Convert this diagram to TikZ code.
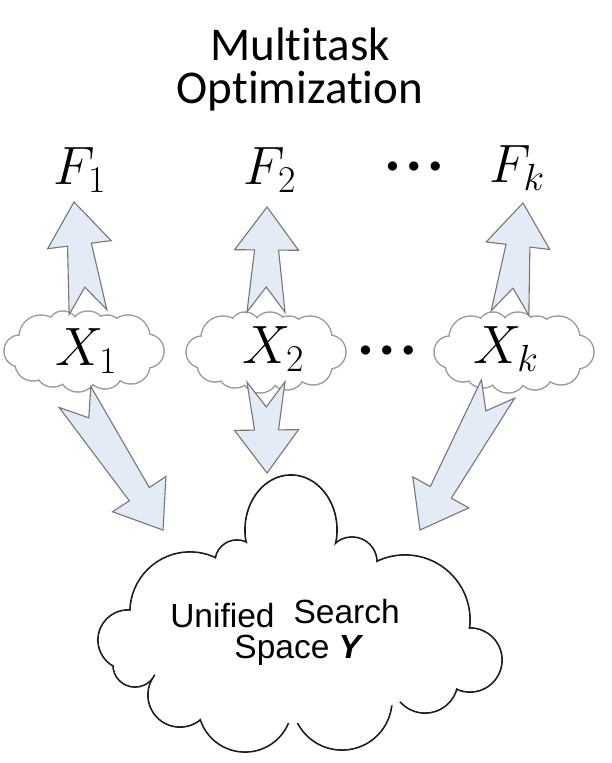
\RequirePackage{fix-cm}
\documentclass[tikz,border=0pt]{standalone}
\usepackage{fontspec}
\setmainfont{Liberation Sans}
\newfontfamily\titlefont[Ligatures=NoCommon]{Carlito}
\usetikzlibrary{calc}
\definecolor{arrowfill}{HTML}{E3EBF6}
\definecolor{arrowline}{HTML}{767676}
\definecolor{cloudgray}{HTML}{9A9A9A}
\definecolor{cloudblack}{HTML}{1E1E1E}
\tikzset{
  barrow/.style={fill=arrowfill, draw=arrowline, line width=1.1pt, line join=miter},
  smallline/.style={draw=cloudgray, line width=1.5pt},
  bigline/.style={draw=cloudblack, line width=1.8pt},
  mathlabel/.style={font=\fontsize{54}{60}\selectfont, inner sep=0pt, anchor=base},
  dotslabel/.style={font=\fontsize{24}{24}\selectfont, inner sep=0pt, anchor=base},
}
\newcommand\barrowpath[2]{%
  \coordinate (hb) at ($(#2)!43pt!(#1)$);
  \draw[barrow] (#2) -- ($(hb)!32pt!90:(#2)$) -- ($(hb)!12pt!90:(#2)$)
    -- ($(#1)!19pt!90:(#2)$) -- ($(#1)!25pt!(#2)$) -- ($(#1)!19pt!-90:(#2)$)
    -- ($(hb)!12pt!-90:(#2)$) -- ($(hb)!32pt!-90:(#2)$) -- cycle;
}
\newcommand\smallcloudat[1]{%
  \begin{scope}[shift={#1}]
    \foreach \cx/\cy/\rr in {-63/0/16,-42/-14/22,-20/-25/15,5/-22/18,24/-20/16,45/-14/22,
        64/0/17,48/14/19,22/20/18,-5/22/19,-30/18/18,-50/12/18}
      {\draw[smallline] (\cx,\cy) circle [radius=\rr pt];}
    \foreach \cx/\cy/\rr in {-63/0/16,-42/-14/22,-20/-25/15,5/-22/18,24/-20/16,45/-14/22,
        64/0/17,48/14/19,22/20/18,-5/22/19,-30/18/18,-50/12/18}
      {\fill[white] (\cx,\cy) circle [radius=\rr pt-0.75pt];}
    \fill[white] (0,0) ellipse [x radius=55pt, y radius=22pt];
  \end{scope}
}
\begin{document}
\begin{tikzpicture}[x=1pt,y=-1pt]
\useasboundingbox (0,0) rectangle (611,763);
\fill[white] (0,0) rectangle (611,763);

% title
\node[font=\titlefont\fontsize{47}{43}\selectfont, align=center, inner sep=0pt, anchor=base] (title) at (300,103) {Multitask\\Optimization};

% big cloud
\begin{scope}
  \draw[bigline] (291,530) ellipse [x radius=46pt, y radius=55pt];
  \foreach \cx/\cy/\rr in {237/562/22,352/562/25,405/620/65,470/660/32,425/680/33,342/700/50,
      245/705/47,180/695/32,135/665/22,128/640/30,190/612/60}
    {\draw[bigline] (\cx,\cy) circle [radius=\rr pt];}
  \fill[white] (291,530) ellipse [x radius=45pt, y radius=54pt];
  \foreach \cx/\cy/\rr in {237/562/22,352/562/25,405/620/65,470/660/32,425/680/33,342/700/50,
      245/705/47,180/695/32,135/665/22,128/640/30,190/612/60}
    {\fill[white] (\cx,\cy) circle [radius=\rr pt-0.9pt];}
  \fill[white] (295,648) ellipse [x radius=150pt, y radius=75pt];
  \fill[white] (295,575) ellipse [x radius=70pt, y radius=25pt];
\end{scope}

% small clouds
\smallcloudat{(83,351)}
\smallcloudat{(265,352)}
\smallcloudat{(513,352)}

% labels
\node[mathlabel] (F1) at (80,184) {$F_1$};
\node[mathlabel] (F2) at (270,184) {$F_2$};
\node[dotslabel] (Fd) at (414,172) {$\bullet\,\bullet\,\bullet$};
\node[mathlabel] (Fk) at (517,182) {$F_k$};

\node[mathlabel] (X1) at (86,365) {$X_1$};
\node[mathlabel] (X2) at (273,363) {$X_2$};
\node[dotslabel] (Xd) at (387,356) {$\bullet\,\bullet\,\bullet$};
\node[mathlabel] (Xk) at (506,363) {$X_k$};

% arrow anchors
\coordinate (t1u) at (88,312);  \coordinate (p1u) at (74,202);
\coordinate (t2u) at (266,312); \coordinate (p2u) at (267,207);
\coordinate (tku) at (510,313); \coordinate (pku) at (523,203);
\coordinate (t1d) at (75,397);  \coordinate (p1d) at (163,530);
\coordinate (t2d) at (266,382); \coordinate (p2d) at (267,473);
\coordinate (tkd) at (498,389); \coordinate (pkd) at (420,530);

\barrowpath{t1u}{p1u}
\barrowpath{t2u}{p2u}
\barrowpath{tku}{pku}
\barrowpath{t1d}{p1d}
\barrowpath{t2d}{p2d}
\barrowpath{tkd}{pkd}

% big cloud text
\node[font=\fontsize{33.5}{40}\selectfont, inner sep=0pt, anchor=base] (u1) at (285,627) {Unified\hspace{19pt}\raisebox{4pt}{Search}};
\node[font=\fontsize{33.5}{40}\selectfont, inner sep=0pt, anchor=base] (u2) at (299,658) {Space \textbf{\textit{Y}}};
\end{tikzpicture}
\end{document}
